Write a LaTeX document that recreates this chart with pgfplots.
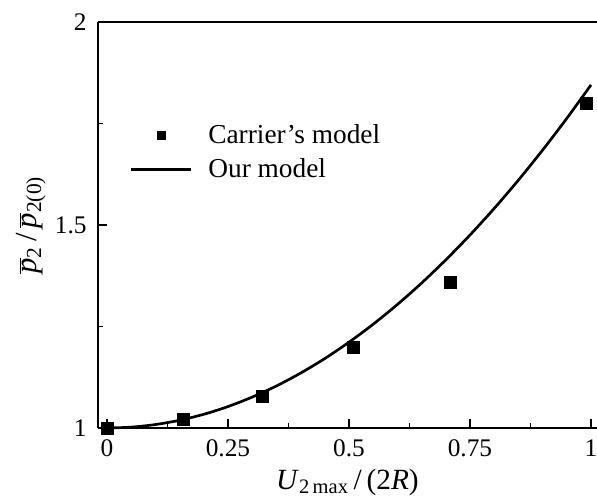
\documentclass[border=0pt]{standalone}
\usepackage{pgfplots}
\pgfplotsset{compat=1.18}
\usepackage{fontspec}
\setmainfont{Liberation Serif}
\newcommand{\pb}{\ensuremath{\overline{\mbox{\itshape p}}}}
\pgfplotsset{
  sqlegend/.style={legend image code/.code={\draw[mark repeat=2,mark phase=2,mark size=3pt,##1] plot coordinates {(0pt,0pt)(22.5pt,0pt)(45pt,0pt)};}},
  linelegend/.style={legend image code/.code={\draw[##1] (0pt,0pt) -- (45pt,0pt);}},
}
\begin{document}
\begin{tikzpicture}
\begin{axis}[
  at={(73.5pt,51pt)}, anchor=south west,
  scale only axis,
  width=374.25pt, height=304.5pt,
  xmin=-0.0186, xmax=1.0124, ymin=1, ymax=2,
  axis x line=box, axis y line=left,
  axis line style={-, line width=1pt},
  xtick={0,0.25,0.5,0.75,1}, xticklabels={0,0.25,0.5,0.75,1},
  ytick={1,1.5,2}, yticklabels={1,1.5,2},
  minor xtick={0.125,0.375,0.625,0.875},
  minor ytick={1.25,1.75},
  xtick pos=bottom, ytick pos=left,
  tick align=inside,
  major tick length=6.75pt, minor tick length=3.75pt,
  tick style={line width=0.9pt, black},
  /pgf/number format/assume math mode=true,
  tick label style={font=\fontsize{19}{20}\selectfont},
  xticklabel style={yshift=-5.5pt},
  yticklabel style={xshift=-5pt},
  every axis x label/.style={at={(ticklabel cs:0.5)}, anchor=near ticklabel, yshift=-2pt, font=\fontsize{22}{24}\selectfont},
  every axis y label/.style={at={(ticklabel cs:0.5)}, rotate=90, anchor=near ticklabel, yshift=0pt, font=\fontsize{23}{24}\selectfont},
  xlabel={\textit{U}\textsubscript{2\,max}\,/\,(2\textit{R})},
  ylabel={\pb\textsubscript{2}\,/\,\pb\textsubscript{2(0)}},
  clip=false,
  legend style={draw=none, fill=none, at={(0.063,0.755)}, anchor=north west,
    font=\fontsize{20.5}{24}\selectfont, row sep=6pt, inner sep=0pt,
    /tikz/every odd column/.append style={column sep=10pt}},
  legend cell align=left,
]
\addplot[only marks, mark=square*, mark size=4.5pt, black, sqlegend]
  coordinates {(0,1.0) (0.158,1.021) (0.32,1.077) (0.509,1.199) (0.709,1.36) (0.991,1.801)};
\addlegendentry{Carrier’s model}
\addplot[black, line width=2pt, smooth, linelegend]
  coordinates {(0,1.0) (0.05,1.0021) (0.1,1.0085) (0.15,1.019) (0.2,1.0338) (0.25,1.0528) (0.3,1.0761) (0.35,1.1035) (0.4,1.1352) (0.45,1.1711) (0.5,1.2113) (0.55,1.2556) (0.6,1.3042) (0.65,1.357) (0.7,1.4141) (0.75,1.4753) (0.8,1.5408) (0.85,1.6105) (0.9,1.6845) (0.95,1.7626) (1.0,1.845)};
\addlegendentry{Our model}
\end{axis}
\pgfresetboundingbox
\useasboundingbox (0,0) rectangle (447.75pt,372pt);
\end{tikzpicture}
\end{document}
